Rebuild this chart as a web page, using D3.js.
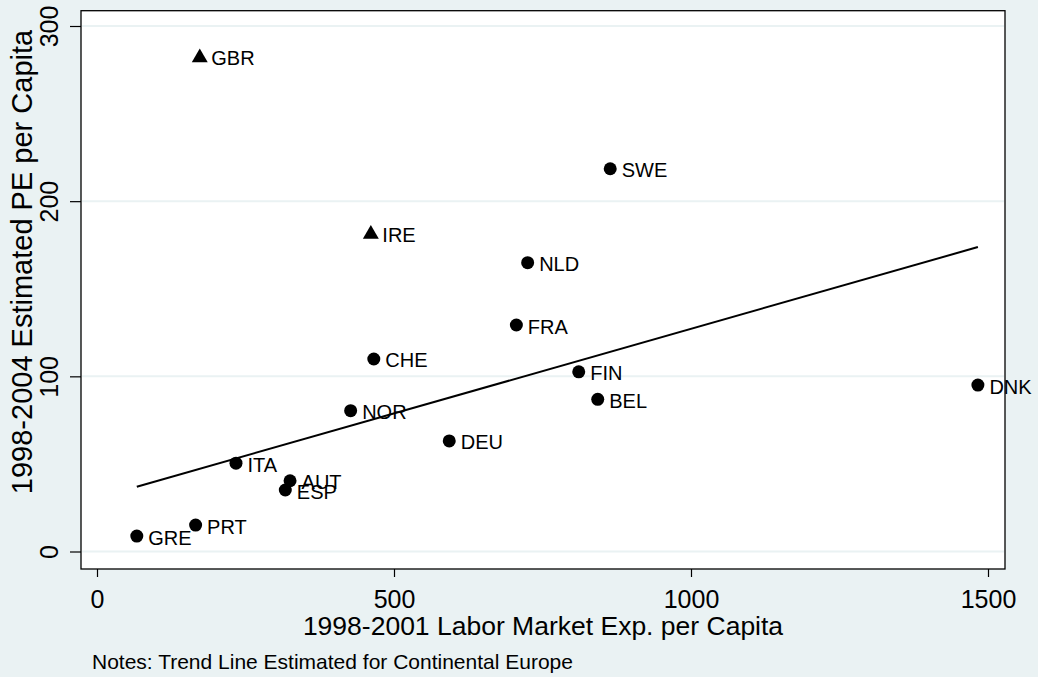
<!DOCTYPE html>
<html>
<head>
<meta charset="utf-8">
<script src="https://cdn.jsdelivr.net/npm/d3@7"></script>
<style>
  html, body { margin: 0; padding: 0; background: #EAF2F3; }
  svg { display: block; }
  text { font-family: "Liberation Sans", Arial, Helvetica, sans-serif; fill: #000; }
</style>
</head>
<body>
<svg id="chart" width="1038" height="677"></svg>
<script>
// ---- data ----
const countries = ["GBR","SWE","IRE","NLD","FRA","CHE","FIN","DNK","BEL","NOR","DEU","ITA","AUT","ESP","PRT","GRE"];
const laborExp  = [173, 864, 461, 725, 706, 466, 811, 1483, 843, 427, 593, 234, 325, 317, 166, 67];
const peCapita  = [282.5, 218.5, 181.7, 164.9, 129.3, 109.9, 102.6, 95.0, 86.9, 80.4, 63.1, 50.4, 40.4, 35.1, 15.1, 8.8];
const markerType = ["triangle","circle","triangle","circle","circle","circle","circle","circle","circle","circle","circle","circle","circle","circle","circle","circle"];
const trendX = [67, 1483];
const trendY = [37.0, 173.8];
const xTicks = [0, 500, 1000, 1500];
const yTicks = [0, 100, 200, 300];
const xTitle = "1998-2001 Labor Market Exp. per Capita";
const yTitle = "1998-2004 Estimated PE per Capita";
const note = "Notes: Trend Line Estimated for Continental Europe";

// ---- layout ----
const svg = d3.select("#chart");
const W = 1038, H = 677;
const plot = { left: 81, right: 1005, top: 10.7, bottom: 569 };

svg.append("rect").attr("width", W).attr("height", H).attr("fill", "#EAF2F3");

const x = d3.scaleLinear().domain([0, 1500]).range([97, 988]);
const y = d3.scaleLinear().domain([0, 300]).range([551.5, 26]);

// plot region
svg.append("rect")
  .attr("x", plot.left).attr("y", plot.top)
  .attr("width", plot.right - plot.left).attr("height", plot.bottom - plot.top)
  .attr("fill", "#fff");

// gridlines
svg.append("g").selectAll("line").data(yTicks).join("line")
  .attr("x1", plot.left + 1).attr("x2", plot.right - 1)
  .attr("y1", d => y(d)).attr("y2", d => y(d))
  .attr("stroke", "#EAF2F3").attr("stroke-width", 2);

// frame
svg.append("rect")
  .attr("x", plot.left).attr("y", plot.top)
  .attr("width", plot.right - plot.left).attr("height", plot.bottom - plot.top)
  .attr("fill", "none").attr("stroke", "#000").attr("stroke-width", 1.3);

// x axis
const xAxis = d3.axisBottom(x).tickValues(xTicks).tickSize(8).tickPadding(5).tickFormat(d3.format("d"));
const gx = svg.append("g").attr("transform", `translate(0,${plot.bottom})`).call(xAxis);
gx.select(".domain").remove();
gx.selectAll(".tick line").attr("stroke", "#000").attr("stroke-width", 1.2);
gx.selectAll(".tick text").attr("font-size", 25).attr("font-family", "Liberation Sans, Arial, sans-serif").attr("fill", "#000")
  .attr("dy", null).attr("y", 39);

// y axis
const yAxis = d3.axisLeft(y).tickValues(yTicks).tickSize(11).tickFormat(d3.format("d"));
const gy = svg.append("g").attr("transform", `translate(${plot.left},0)`).call(yAxis);
gy.select(".domain").remove();
gy.selectAll(".tick line").attr("stroke", "#000").attr("stroke-width", 1.2);
gy.selectAll(".tick text")
  .attr("font-size", 25).attr("font-family", "Liberation Sans, Arial, sans-serif").attr("fill", "#000")
  .attr("x", null).attr("dy", null)
  .attr("text-anchor", "middle")
  .attr("transform", "translate(-23,0) rotate(-90)");

// axis titles
svg.append("text")
  .attr("x", (plot.left + plot.right) / 2).attr("y", 635)
  .attr("text-anchor", "middle").attr("font-size", 26.5)
  .text(xTitle);

svg.append("text")
  .attr("transform", `translate(32,262) rotate(-90)`)
  .attr("text-anchor", "middle").attr("font-size", 29)
  .text(yTitle);

// note
svg.append("text")
  .attr("x", 92).attr("y", 669)
  .attr("font-size", 21)
  .text(note);

// trend line
svg.append("line")
  .attr("x1", x(trendX[0])).attr("y1", y(trendY[0]))
  .attr("x2", x(trendX[1])).attr("y2", y(trendY[1]))
  .attr("stroke", "#000").attr("stroke-width", 2);

// points
const pts = countries.map((c, i) => ({ c, x: laborExp[i], y: peCapita[i], m: markerType[i] }));
const g = svg.append("g");
const tri = d3.symbol().type(d3.symbolTriangle).size(110);
pts.forEach(p => {
  const cx = x(p.x), cy = y(p.y);
  if (p.m === "circle") {
    g.append("circle").attr("cx", cx).attr("cy", cy).attr("r", 6.5).attr("fill", "#000");
  } else {
    g.append("path").attr("d", tri).attr("transform", `translate(${cx},${cy + 1})`).attr("fill", "#000");
  }
  g.append("text").attr("x", cx + 11.5).attr("y", cy + 8.5).attr("font-size", 20).text(p.c);
});
</script>
</body>
</html>
